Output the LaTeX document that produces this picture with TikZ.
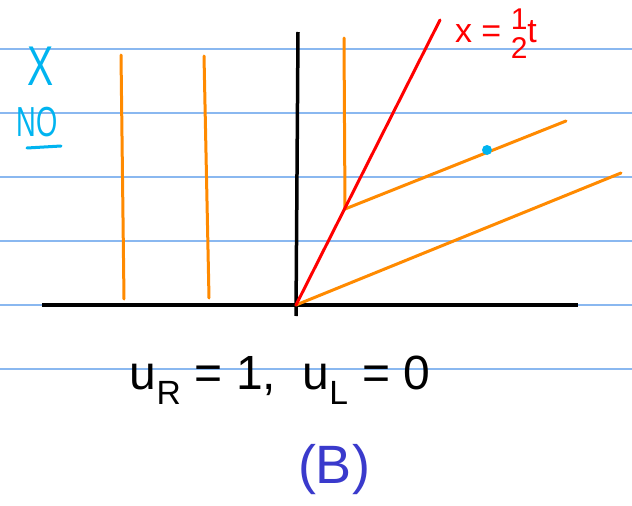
\documentclass[tikz,border=0pt]{standalone}
\usepackage{fontspec}
\setmainfont{Liberation Sans}
\newcommand{\halffrac}{\begin{tabular}{@{}c@{}}\fontsize{30}{30}\selectfont 1\\[-9pt]\fontsize{30}{30}\selectfont 2\end{tabular}}
\begin{document}
\begin{tikzpicture}[x=1pt,y=-1pt,
  rule/.style={draw=ruleblue,line width=1.3pt},
  axis/.style={draw=black,line width=3.5pt},
  charline/.style={draw=charorange,line width=3pt,line cap=round},
  shock/.style={draw=red,line width=3pt,line cap=round},
  lbl/.style={inner sep=0pt,anchor=center}]
\definecolor{ruleblue}{HTML}{8AB8F0}
\definecolor{charorange}{HTML}{FF8A00}
\definecolor{cyanink}{HTML}{00B4F0}
\definecolor{violetink}{HTML}{3A3ACC}
\useasboundingbox (0,0) rectangle (632,506);
\fill[white] (0,0) rectangle (632,506);
% ruled lines
\foreach \yy in {49,113,177,241,305,369}{\draw[rule] (0,\yy) -- (632,\yy);}
% axes
\coordinate (O) at (296,305);
\coordinate (xl) at (42,305);
\coordinate (xr) at (578,305);
\coordinate (yt) at (298,32);
\coordinate (yb) at (296,316);
\draw[axis] (xl) -- (xr);
\draw[axis] (yb) -- (yt);
% left characteristics
\coordinate (l1t) at (121,55); \coordinate (l1b) at (124,299);
\coordinate (l2t) at (204,56); \coordinate (l2b) at (209,298);
\draw[charline] (l1t) -- (l1b);
\draw[charline] (l2t) -- (l2b);
% kinked characteristic
\coordinate (kt) at (344,38);
\coordinate (kk) at (345,209);
\coordinate (ke) at (566,121);
\draw[charline] (kt) -- (kk) -- (ke);
% fan characteristic
\coordinate (fe) at (621,173);
\draw[charline] (O) -- (fe);
% shock
\coordinate (se) at (440,20);
\draw[shock] (O) -- (se);
% dot
\fill[cyanink] (487,150) circle (5pt);
% labels
\node[lbl,text=red,font=\fontsize{34}{38}\selectfont] (shlbl) at (496,36) {x = \halffrac t};
\node[lbl,text=cyanink,font=\fontsize{56}{60}\selectfont,xscale=0.7] (xlbl) at (41,66) {X};
\node[lbl,text=cyanink,font=\fontsize{42}{46}\selectfont,xscale=0.65] (nolbl) at (37,122) {NO};
\draw[cyanink,line width=3pt,line cap=round] (27,148) -- (61,146);
\node[lbl,font=\fontsize{48}{54}\selectfont] (cond) at (280,380) {u\textsubscript{R} = 1,~~u\textsubscript{L} = 0};
\node[lbl,text=violetink,font=\fontsize{54}{60}\selectfont] (tag) at (334,470) {(B)};
\end{tikzpicture}
\end{document}
